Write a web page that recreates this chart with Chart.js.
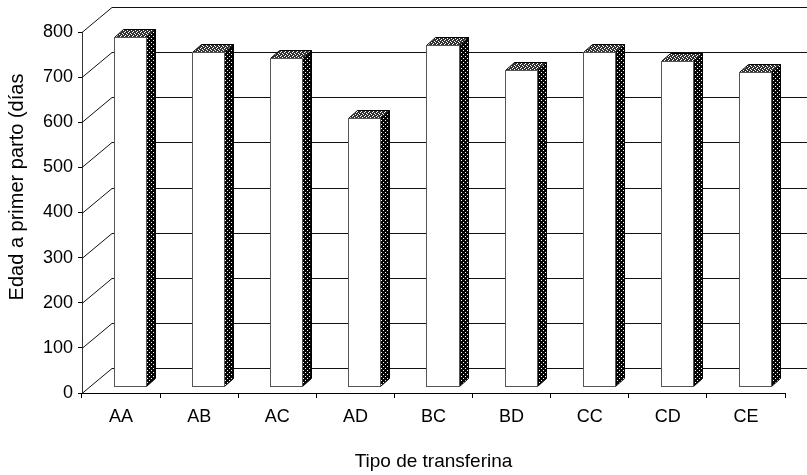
<!DOCTYPE html>
<html>
<head>
<meta charset="utf-8">
<script src="https://cdn.jsdelivr.net/npm/chart.js@4.4.1/dist/chart.umd.min.js"></script>
<style>
  html, body { margin: 0; padding: 0; background: #fff; }
  #wrap { width: 807px; height: 475px; }
</style>
</head>
<body>
<div id="wrap"><canvas id="chart"></canvas></div>
<script>
// data
const categories = ['AA', 'AB', 'AC', 'AD', 'BC', 'BD', 'CC', 'CD', 'CE'];
const edadValues = [774, 741, 727, 594, 756, 700, 740, 720, 696];
const yMin = 0;
const yMax = 800;
const yStep = 100;
const yTitle = 'Edad a primer parto (días';
const xTitle = 'Tipo de transferina';

// depth of the walls and of each bar (pixels)
const WALL_DX = 30, WALL_DY = -25;
const BAR_SHIFT_X = 9, BAR_SHIFT_Y = -7;
const BAR_DX = 9, BAR_DY = -8;

const fontFam = "'Liberation Sans', Arial, sans-serif";

function makePattern(base, dots) {
    const c = document.createElement('canvas');
    c.width = 4; c.height = 4;
    const g = c.getContext('2d');
    g.fillStyle = base;
    g.fillRect(0, 0, 4, 4);
    g.fillStyle = '#fff';
    dots.forEach(d => g.fillRect(d[0], d[1], 1, 1));
    return g.createPattern(c, 'repeat');
}

const wall3d = {
    id: 'wall3d',
    beforeDatasetsDraw(chart) {
        const ctx = chart.ctx;
        const area = chart.chartArea;
        const ys = chart.scales.y;
        ctx.save();
        ctx.strokeStyle = '#111';
        ctx.lineWidth = 1;
        for (let v = yMin; v <= yMax; v += yStep) {
            const y = Math.round(ys.getPixelForValue(v)) + 0.5;
            ctx.beginPath();
            ctx.moveTo(area.left, y);
            ctx.lineTo(area.left + WALL_DX, y + WALL_DY);
            ctx.lineTo(area.right + WALL_DX, y + WALL_DY);
            ctx.stroke();
        }
        ctx.restore();
    },
    afterDatasetsDraw(chart) {
        const ctx = chart.ctx;
        const meta = chart.getDatasetMeta(0);
        const sidePat = makePattern('#050505', [[1, 0], [3, 2]]);
        const topPat = makePattern('#333', [[0, 0], [2, 1], [1, 3], [3, 2]]);
        ctx.save();
        ctx.lineWidth = 1;
        meta.data.forEach(bar => {
            const p = bar.getProps(['x', 'y', 'base', 'width'], true);
            const l = Math.round(p.x - p.width / 2 + BAR_SHIFT_X) + 0.5;
            const r = Math.round(p.x + p.width / 2 + BAR_SHIFT_X) + 0.5;
            const t = Math.round(p.y + BAR_SHIFT_Y) + 0.5;
            const b = Math.round(p.base + BAR_SHIFT_Y) + 0.5;
            // side face
            ctx.beginPath();
            ctx.moveTo(r, t);
            ctx.lineTo(r + BAR_DX, t + BAR_DY);
            ctx.lineTo(r + BAR_DX, b + BAR_DY);
            ctx.lineTo(r, b);
            ctx.closePath();
            ctx.fillStyle = sidePat;
            ctx.fill();
            ctx.strokeStyle = '#000';
            ctx.stroke();
            // top face
            ctx.beginPath();
            ctx.moveTo(l, t);
            ctx.lineTo(l + BAR_DX, t + BAR_DY);
            ctx.lineTo(r + BAR_DX, t + BAR_DY);
            ctx.lineTo(r, t);
            ctx.closePath();
            ctx.fillStyle = topPat;
            ctx.fill();
            ctx.strokeStyle = '#000';
            ctx.stroke();
            // front face
            ctx.fillStyle = '#fff';
            ctx.fillRect(l, t, r - l, b - t);
            ctx.strokeStyle = '#555';
            ctx.strokeRect(l, t, r - l, b - t);
        });
        ctx.restore();
    },
    afterDraw(chart) {
        // y axis title, placed a little above the centre as in the original
        const ctx = chart.ctx;
        ctx.save();
        ctx.translate(17, 187);
        ctx.rotate(-Math.PI / 2);
        ctx.font = '20px ' + fontFam;
        ctx.fillStyle = '#000';
        ctx.textAlign = 'center';
        ctx.textBaseline = 'middle';
        ctx.fillText(yTitle, 0, 0);
        ctx.restore();
    }
};

new Chart(document.getElementById('chart'), {
    type: 'bar',
    data: {
        labels: categories,
        datasets: [{
            label: 'Edad a primer parto',
            data: edadValues,
            backgroundColor: 'rgba(0,0,0,0)',
            borderWidth: 0,
            categoryPercentage: 1,
            barPercentage: 0.41
        }]
    },
    options: {
        responsive: true,
        maintainAspectRatio: false,
        animation: false,
        layout: { padding: { top: 32, right: 22, left: 0, bottom: 0 } },
        plugins: {
            legend: { display: false },
            tooltip: { enabled: false }
        },
        scales: {
            x: {
                afterFit(scale) { scale.height = 82; },
                grid: {
                    drawOnChartArea: false,
                    color: '#000',
                    tickLength: 5,
                    offset: true
                },
                border: { color: '#000', width: 1 },
                ticks: {
                    color: '#000',
                    padding: 8,
                    font: { family: fontFam, size: 18 }
                },
                title: {
                    display: true,
                    text: xTitle,
                    color: '#000',
                    padding: { top: 0, bottom: 2 },
                    font: { family: fontFam, size: 19 }
                }
            },
            y: {
                min: yMin,
                max: yMax,
                afterFit(scale) { scale.width = 82; },
                grid: {
                    drawOnChartArea: false,
                    color: '#000',
                    tickLength: 4
                },
                border: { color: '#333', width: 1 },
                ticks: {
                    stepSize: yStep,
                    color: '#000',
                    padding: 5,
                    font: { family: fontFam, size: 18 }
                }
            }
        }
    },
    plugins: [wall3d]
});
</script>
</body>
</html>
